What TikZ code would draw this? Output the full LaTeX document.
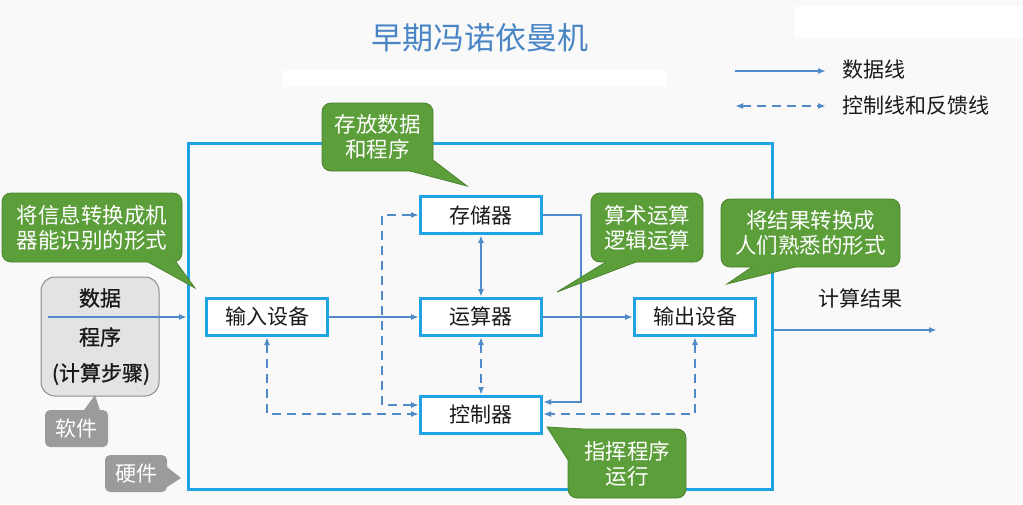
\documentclass[tikz,border=0pt]{standalone}
\usepackage{fontspec}
\setmainfont{Noto Sans CJK SC}
\newfontfamily\srcfont[FakeBold=1]{Noto Sans CJK SC}
\usetikzlibrary{arrows.meta,calc}
\definecolor{bgC}{HTML}{F9F9F9}
\definecolor{frameC}{HTML}{1FA3E3}
\definecolor{lineC}{HTML}{4F8BC9}
\definecolor{titleC}{HTML}{4A86C5}
\definecolor{greenF}{HTML}{5C9E3A}
\definecolor{greenD}{HTML}{4A8430}
\definecolor{grayF}{HTML}{9B9B9B}
\definecolor{srcF}{HTML}{E3E3E3}
\definecolor{srcD}{HTML}{8C8C8C}
\definecolor{txtC}{HTML}{1A1A1A}
\begin{document}
\begin{tikzpicture}[x=1pt,y=-1pt,
  fs/.style={font=\fontsize{#1}{25}\selectfont},
  unit/.style={draw=frameC,line width=3pt,fill=white,minimum width=121pt,minimum height=37pt,inner sep=0pt,fs=21,text=txtC},
  tipA/.style={-{Latex[length=8pt,width=6pt]}},
  tipB/.style={{Latex[length=8pt,width=6pt]}-{Latex[length=8pt,width=6pt]}},
  data/.style={draw=lineC,line width=1.6pt},
  ctrl/.style={draw=lineC,line width=1.6pt,dash pattern=on 9pt off 6pt},
  gbox/.style={fill=greenF,draw=greenD,line width=0.8pt,rounded corners=9pt,text=white,align=center,inner sep=0pt,fs=21.5},
  gptr/.style={fill=greenF},
  gedge/.style={draw=greenD,line width=0.8pt},
  sbox/.style={fill=grayF,rounded corners=5pt,text=white,inner sep=0pt,fs=21},
  plain/.style={text=txtC,inner sep=0pt,fs=21},
  srct/.style={text=txtC,inner sep=0pt,font=\srcfont\fontsize{21}{25}\selectfont}]
% background
\path[fill=bgC,use as bounding box] (0,0) rectangle (1023,504);
\fill[white] (795,6) rectangle (1023,38);
\fill[white] (283,70) rectangle (667,87);
% title
\node[text=titleC,inner sep=0pt,font=\fontsize{31}{36}\selectfont] (title) at (480,38) {早期冯诺依曼机};
% legend
\coordinate (lgAs) at (735,71);
\coordinate (lgAe) at (826,71);
\coordinate (lgBs) at (735,106);
\coordinate (lgBe) at (826,106);
\draw[data,tipA] (lgAs) -- (lgAe);
\draw[ctrl,tipB] (lgBs) -- (lgBe);
\node[plain,anchor=west] (lgA) at (842,70) {数据线};
\node[plain,anchor=west] (lgB) at (842,106) {控制线和反馈线};
% frame
\node[draw=frameC,line width=3pt,minimum width=584pt,minimum height=346pt,inner sep=0pt] (frame) at (480.5,316) {};
% units
\node[unit] (mem) at (481,215) {存储器};
\node[unit] (alu) at (481,317) {运算器};
\node[unit] (ctl) at (481,415) {控制器};
\node[unit] (in)  at (267,317) {输入设备};
\node[unit] (out) at (695,317) {输出设备};
% source box
\node[fill=srcF,draw=srcD,line width=1pt,rounded corners=14pt,minimum width=118pt,minimum height=119pt,inner sep=0pt] (src) at (100,336.5) {};
\node[srct] (srcA) at (100,298) {数据};
\node[srct] (srcB) at (100,337) {程序};
\node[srct] (srcC) at (101,374) {(计算步骤)};
% data lines
\coordinate (inStart) at (48,317);
\draw[data,tipA] (inStart) -- (frame.west |- inStart);
\draw[data,tipA] (in.east) -- (alu.west);
\draw[data,tipA] (alu.east) -- (out.west);
\coordinate (resEnd) at (937,330);
\draw[data,tipA] (frame.east |- resEnd) -- (resEnd);
\node[plain] (res) at (860,298) {计算结果};
\draw[data,tipB] (mem.south) -- (alu.north);
\coordinate (c1) at (581,402);
\draw[data,tipA] (mem.east) -| (c1) -- (ctl.east |- c1);
% control lines
\draw[ctrl,tipB] (alu.south) -- (ctl.north);
\coordinate (c2) at (382,405);
\draw[ctrl,tipB] (ctl.west |- c2) -- (c2) |- (mem.west);
\coordinate (c3) at (267,414);
\draw[ctrl,tipB] (in.south) |- (ctl.west |- c3);
\draw[ctrl,tipB] (out.south) |- (ctl.east |- c3);
% green callouts
\node[gbox,minimum width=180pt,minimum height=69pt] (g1) at (92,227.5) {将信息转换成机\\器能识别的形式};
\fill[gptr] (148,262) -- (195,288) -- (176,262) -- (162,256) -- cycle;
\draw[gedge] (148,262) -- (195,288) -- (176,262);
\node[gbox,minimum width=111pt,minimum height=68pt] (g2) at (377.5,137) {存放数据\\和程序};
\fill[gptr] (410,171) -- (467,186) -- (433,160) -- (424,165) -- cycle;
\draw[gedge] (410,171) -- (467,186) -- (433,160);
\node[gbox,minimum width=112pt,minimum height=69pt] (g3) at (647,227.5) {算术运算\\逻辑运算};
\fill[gptr] (606,262) -- (557,292) -- (636,262) -- (621,255) -- cycle;
\draw[gedge] (606,262) -- (557,292) -- (636,262);
\node[gbox,minimum width=179pt,minimum height=68pt] (g4) at (810.5,233) {将结果转换成\\人们熟悉的形式};
\fill[gptr] (752,267) -- (727,284) -- (795,267) -- (772,261) -- cycle;
\draw[gedge] (752,267) -- (727,284) -- (795,267);
\node[gbox,minimum width=118pt,minimum height=69pt] (g5) at (627,463.5) {指挥程序\\运行};
\fill[gptr] (582,429) -- (547,427) -- (568,460) -- (578,442) -- cycle;
\draw[gedge] (582,429) -- (547,427) -- (568,460);
% gray callouts
\node[sbox,minimum width=63pt,minimum height=37pt] (s1) at (76.5,428.5) {软件};
\fill[grayF] (84,410) -- (95,395) -- (100,410) -- (92,416) -- cycle;
\node[sbox,minimum width=62pt,minimum height=37pt] (s2) at (136,473.5) {硬件};
\fill[grayF] (167,467) -- (181,478) -- (167,487) -- (162,477) -- cycle;
\end{tikzpicture}
\end{document}
